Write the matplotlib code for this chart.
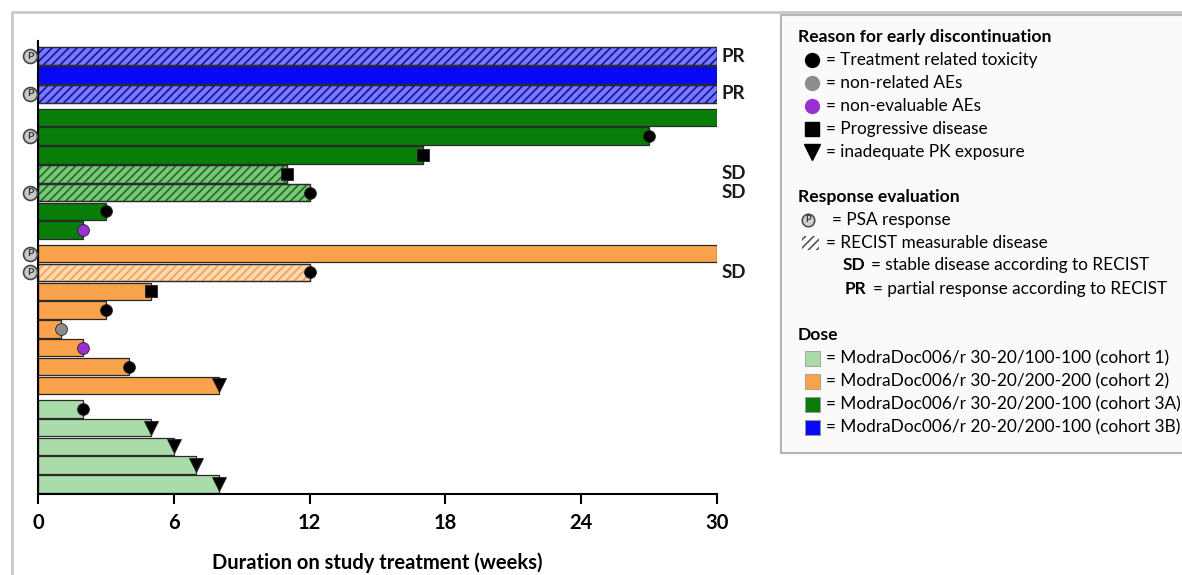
import numpy as np
import matplotlib.pyplot as plt
from matplotlib.patches import Rectangle

plt.rcParams['font.family'] = ['Lato', 'DejaVu Sans']
plt.rcParams['hatch.linewidth'] = 1.2

# patients, listed top to bottom
durations = [30, 30, 30,
             30, 27, 17, 11, 12, 3, 2,
             30, 12, 5, 3, 1, 2, 4, 8,
             2, 5, 6, 7, 8]
cohorts = ['3B'] * 3 + ['3A'] * 7 + ['2'] * 8 + ['1'] * 5
reasons = [None, None, None,
           None, 'tox', 'pd', 'pd', 'tox', 'tox', 'noneval',
           None, 'tox', 'pd', 'tox', 'nonrel', 'noneval', 'tox', 'pk',
           'tox', 'pk', 'pk', 'pk', 'pk']
recist_measurable = [1, 0, 1,
                     0, 0, 0, 1, 1, 0, 0,
                     0, 1, 0, 0, 0, 0, 0, 0,
                     0, 0, 0, 0, 0]
psa_response = [1, 0, 1,
                0, 1, 0, 0, 1, 0, 0,
                1, 1, 0, 0, 0, 0, 0, 0,
                0, 0, 0, 0, 0]
recist_label = ['PR', '', 'PR',
                '', '', '', 'SD', 'SD', '', '',
                '', 'SD', '', '', '', '', '', '',
                '', '', '', '', '']

cohort_order = ['1', '2', '3A', '3B']
cohort_color = {'1': '#a9dca9', '2': '#f8a34c', '3A': '#087d08', '3B': '#0808f5'}
hatch_face = {'1': '#cdeccd', '2': '#fcd9b2', '3A': '#7cc47c', '3B': '#7878ff'}
hatch_line = {'1': '#4a9a4a', '2': '#f5a04a', '3A': '#15701a', '3B': '#12129a'}
cohort_text = {'1': '= ModraDoc006/r 30-20/100-100 (cohort 1)',
               '2': '= ModraDoc006/r 30-20/200-200 (cohort 2)',
               '3A': '= ModraDoc006/r 30-20/200-100 (cohort 3A)',
               '3B': '= ModraDoc006/r 20-20/200-100 (cohort 3B)'}

reason_style = {'tox': dict(marker='o', color='black', ms=8.5),
                'nonrel': dict(marker='o', color='#8c8c8c', ms=8.5),
                'noneval': dict(marker='o', color='#9b2fd6', ms=8.5),
                'pd': dict(marker='s', color='black', ms=8),
                'pk': dict(marker='v', color='black', ms=10)}
reason_text = {'tox': '= Treatment related toxicity',
               'nonrel': '= non-related AEs',
               'noneval': '= non-evaluable AEs',
               'pd': '= Progressive disease',
               'pk': '= inadequate PK exposure'}

# y positions: one row per patient, extra gap between cohorts
n = len(durations)
row = np.arange(n)[::-1].astype(float)
ypos = row + np.array([0.25 * cohort_order.index(c) for c in cohorts])

W, H = 1182, 575
fig = plt.figure(figsize=(W / 100, H / 100), dpi=100)
ax = fig.add_axes([38 / W, 1 - 494 / H, 679 / W, 453 / H])

for i in range(n):
    c = cohorts[i]
    if recist_measurable[i]:
        ax.barh(ypos[i], durations[i], height=0.93, color=hatch_face[c],
                edgecolor='#2a2a2a', lw=0.9, zorder=2)
        ax.barh(ypos[i], durations[i], height=0.93, facecolor='none',
                edgecolor=hatch_line[c], hatch='////', lw=0, zorder=2.1)
        ax.barh(ypos[i], durations[i], height=0.93, facecolor='none',
                edgecolor='#2a2a2a', lw=0.9, zorder=2.2)
    else:
        ax.barh(ypos[i], durations[i], height=0.93, color=cohort_color[c],
                edgecolor='#2a2a2a', lw=0.9, zorder=2)
    r = reasons[i]
    if r is not None:
        st = reason_style[r]
        ax.plot(durations[i], ypos[i], st['marker'], color=st['color'],
                ms=st['ms'], mec='#222222', mew=0.6, zorder=4, clip_on=False)
    if psa_response[i]:
        ax.plot(-0.35, ypos[i], 'o', ms=10, mfc='#c8c8c8', mec='#444444',
                mew=1.2, clip_on=False, zorder=4)
        ax.text(-0.35, ypos[i], 'P', ha='center', va='center', fontsize=7.5,
                fontweight='bold', color='#333333', clip_on=False, zorder=5)
    if recist_label[i]:
        ax.text(30.2, ypos[i], recist_label[i], ha='left', va='center',
                fontsize=13.5, fontweight='bold', color='#1a1a1a')

ax.set_xlim(0, 30)
ax.set_ylim(-0.53, 23.56)
ax.set_xticks([0, 6, 12, 18, 24, 30])
ax.tick_params(axis='x', length=7, width=1.5, labelsize=14.5, pad=7)
for lab in ax.get_xticklabels():
    lab.set_fontweight('bold')
ax.set_yticks([])
for s in ['top', 'right']:
    ax.spines[s].set_visible(False)
ax.spines['left'].set_linewidth(1.5)
ax.spines['bottom'].set_linewidth(1.5)
ax.set_xlabel('Duration on study treatment (weeks)', fontsize=14.5,
              fontweight='bold', labelpad=14)

# overlay in pixel coordinates for frame and legend
ov = fig.add_axes([0, 0, 1, 1], zorder=-1)
ov.set_xlim(0, W)
ov.set_ylim(H, 0)
ov.axis('off')
ov.plot([12, 12, W], [H, 12, 12], color='#c8c8c8', lw=2)
ov.add_patch(Rectangle((781, 15), 440, 438, facecolor='#fafafa',
                       edgecolor='#b4b4b4', lw=1.5))

tx = 798
fs = 12.4
fsb = 12.6
ov.text(tx, 37, 'Reason for early discontinuation', fontsize=fsb,
        fontweight='bold', va='center')
ly = 60
for r in ['tox', 'nonrel', 'noneval', 'pd', 'pk']:
    st = reason_style[r]
    ov.plot(812, ly, st['marker'], color=st['color'], ms=st['ms'] + 1.5,
            mec=st['color'])
    ov.text(826, ly, reason_text[r], fontsize=fs, va='center')
    ly += 23

ov.text(tx, 197, 'Response evaluation', fontsize=fsb, fontweight='bold',
        va='center')
ov.plot(808, 220, 'o', ms=9, mfc='#d0d0d0', mec='#444444', mew=1.1)
ov.text(808, 220, 'P', ha='center', va='center', fontsize=6.5,
        fontweight='bold', color='#333333')
ov.text(832, 220, '= PSA response', fontsize=fs, va='center')
ov.add_patch(Rectangle((802, 236), 17, 14, facecolor='white',
                       edgecolor='#555555', hatch='////', lw=0))
ov.text(826, 243, '= RECIST measurable disease', fontsize=fs, va='center')
ov.text(843, 265, 'SD', fontsize=fs, va='center', fontweight='bold')
ov.text(871, 265, '= stable disease according to RECIST', fontsize=fs,
        va='center')
ov.text(845, 289, 'PR', fontsize=fs, va='center', fontweight='bold')
ov.text(873, 289, '= partial response according to RECIST', fontsize=fs,
        va='center')

ov.text(tx, 335, 'Dose', fontsize=fsb, fontweight='bold', va='center')
ly = 358
for c in cohort_order:
    ov.add_patch(Rectangle((805, ly - 7.5), 15, 15, facecolor=cohort_color[c],
                           edgecolor='#999999', lw=0.6))
    ov.text(826, ly, cohort_text[c], fontsize=fs, va='center')
    ly += 23

fig.savefig('out.png', dpi=100)
